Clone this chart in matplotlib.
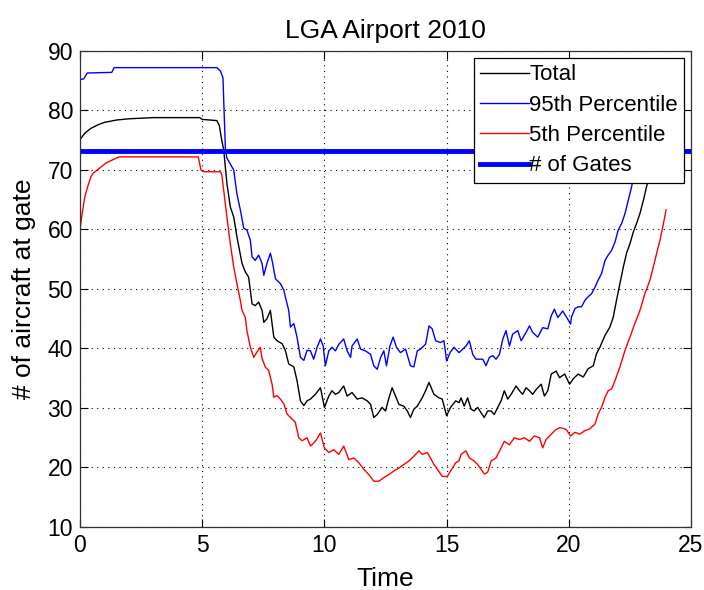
import matplotlib
matplotlib.use("Agg")
import matplotlib.pyplot as plt

plt.rcParams['font.family'] = ['Liberation Sans', 'DejaVu Sans']

title = "LGA Airport 2010"
xlabel = "Time"
ylabel = "# of aircraft at gate"
legend_labels = ["Total", "95th Percentile", "5th Percentile", "# of Gates"]
gates = 73.2

t_total = [0.0, 0.2, 0.45, 0.74, 1.0, 1.5, 2.0, 3.0, 4.9, 5.0, 5.6, 5.7, 5.8,
           5.88, 6.01, 6.15, 6.29, 6.42, 6.63, 6.76, 6.9, 6.97, 7.04, 7.17, 7.31, 7.45,
           7.52, 7.65, 7.79, 7.93, 8.06, 8.27, 8.4, 8.54, 8.75, 8.88, 9.02, 9.16, 9.29,
           9.43, 9.63, 9.84, 10.0, 10.18, 10.31, 10.45, 10.59, 10.79, 10.93, 11.13, 11.34,
           11.54, 11.75, 11.89, 12.02, 12.16, 12.36, 12.5, 12.64, 12.77, 12.91, 13.05,
           13.25, 13.39, 13.52, 13.66, 13.8, 14.0, 14.14, 14.28, 14.48, 14.69, 14.82,
           15.0, 15.16, 15.37, 15.51, 15.59, 15.72, 15.86, 16.0, 16.13, 16.27, 16.41,
           16.54, 16.68, 16.82, 16.95, 17.09, 17.23, 17.36, 17.5, 17.64, 17.84, 17.98,
           18.11, 18.25, 18.39, 18.52, 18.66, 18.87, 19.0, 19.14, 19.28, 19.48, 19.62,
           19.83, 20.03, 20.18, 20.38, 20.59, 20.79, 21.0, 21.13, 21.27, 21.48, 21.68,
           21.82, 21.95, 22.09, 22.23, 22.36, 22.5, 22.64, 22.77, 22.91, 23.05, 23.18,
           23.32, 23.6, 24.0]
v_total = [75.1, 76.2, 77.0, 77.6, 78.0, 78.4, 78.6, 78.8, 78.8, 78.5, 78.3, 77.5, 75.0,
           73.4, 67.8, 63.8, 62.1, 58.8, 54.3, 52.9, 52.0, 49.8, 47.5, 47.2, 47.8, 46.4,
           44.4, 45.0, 46.4, 41.9, 41.3, 40.8, 39.7, 37.4, 36.9, 34.6, 31.2, 30.4, 31.2,
           31.5, 32.3, 33.4, 30.1, 32.0, 32.9, 32.3, 32.6, 33.7, 32.0, 32.6, 31.5,
           31.7, 31.2, 30.6, 28.4, 28.9, 30.1, 29.5, 31.7, 33.4, 32.0, 30.6,
           30.3, 29.5, 28.4, 29.8, 30.3, 31.7, 32.9, 34.3, 32.3, 31.7, 31.5,
           28.7, 30.1, 31.2, 30.9, 31.7, 30.3, 31.7, 29.8, 29.5, 30.1, 29.2,
           28.4, 29.5, 29.5, 28.9, 30.1, 31.2, 32.9, 31.5, 32.3, 33.7, 32.9,
           32.3, 33.4, 32.9, 32.3, 33.1, 34.0, 32.0, 32.9, 35.7, 36.2, 35.1,
           35.7, 34.0, 34.9, 35.7, 35.2, 36.6, 37.1, 39.1, 40.2, 42.2, 43.6,
           45.3, 48.1, 50.9, 53.7, 56.0, 57.6, 59.6, 61.0, 62.7, 64.9, 67.2,
           69.4, 72.5, 76.0]

t_p95 = [0.0, 0.15, 0.3, 1.3, 1.4, 5.6, 5.75, 5.85, 5.95, 6.01, 6.29, 6.42, 6.56, 6.7,
         6.83, 6.97, 7.04, 7.17, 7.31, 7.45, 7.52, 7.65, 7.79, 7.86, 8.0, 8.2, 8.34, 8.4,
         8.54, 8.61, 8.75, 8.88, 9.02, 9.16, 9.29,
         9.43, 9.56, 9.7, 9.84, 9.95, 10.04, 10.18, 10.31, 10.45, 10.59, 10.79, 10.93,
         11.07, 11.13, 11.34, 11.48, 11.68, 11.89, 12.02, 12.16, 12.3, 12.43, 12.54,
         12.68, 12.81, 12.95, 13.11, 13.32, 13.52, 13.66, 13.8, 13.93, 14.14, 14.28,
         14.41, 14.55, 14.75, 14.89, 15.0, 15.14, 15.3, 15.51, 15.66, 15.79, 15.93,
         16.07, 16.2, 16.48, 16.61, 16.75, 16.89, 17.02, 17.16, 17.3, 17.43, 17.57,
         17.7, 17.91, 18.05, 18.25, 18.39, 18.52, 18.73, 18.93, 19.14, 19.28, 19.41,
         19.55, 19.75, 19.96, 20.07, 20.11, 20.25, 20.38, 20.52, 20.66, 20.79, 20.93,
         21.07, 21.2, 21.34, 21.48, 21.61, 21.75, 21.89, 22.02, 22.16, 22.3, 22.43,
         22.57, 22.64, 22.9, 23.3, 23.7, 24.0]
v_p95 = [85.2, 85.3, 86.3, 86.4, 87.2, 87.2, 86.6, 85.5, 73.4, 72.0, 70.0, 66.0, 63.3, 60.2,
         59.9, 58.2, 55.4, 54.8, 55.7, 54.3, 52.3, 54.3, 56.0, 54.8, 51.7, 50.9, 49.8, 48.7,
         46.4, 43.6, 44.2, 41.9, 38.5, 38.0, 39.7,
         39.6, 38.2, 40.2, 41.6, 40.4, 37.1, 39.6, 40.2, 39.6, 40.7, 41.6, 39.6,
         38.5, 40.4, 41.6, 39.9, 39.6, 39.0, 37.1, 36.5, 38.5, 39.6, 37.1,
         40.4, 41.9, 40.2, 39.3, 39.9, 37.1, 36.9, 39.6, 39.9, 40.7, 43.8,
         43.3, 41.3, 41.0, 41.3, 37.9, 39.3, 40.2, 39.3, 39.9, 40.4, 41.3,
         39.0, 38.2, 38.2, 37.1, 38.5, 38.8, 38.2, 39.0, 41.6, 43.0, 40.4,
         42.4, 43.0, 41.3, 42.7, 43.8, 42.7, 41.9, 43.5, 43.3, 45.5, 46.6,
         45.2, 46.3, 44.9, 44.1, 45.3, 46.7, 47.0, 47.0, 48.1, 48.7, 49.2,
         50.3, 51.5, 52.6, 54.8, 55.7, 56.5, 57.9, 59.9, 61.0, 62.7, 64.9,
         67.2, 68.9, 72.0, 76.0, 80.0, 84.0]

t_p5 = [0.0, 0.1, 0.2, 0.3, 0.45, 0.55, 0.8, 1.07, 1.6, 4.84, 4.95, 5.1, 5.75, 5.8,
        5.88, 6.01, 6.15, 6.29, 6.42, 6.56, 6.63, 6.76, 6.83, 6.97, 7.11, 7.24, 7.38,
        7.45, 7.58, 7.72, 7.86, 7.93, 8.06, 8.2, 8.34, 8.47, 8.61, 8.81, 8.95, 9.09, 9.29,
        9.43, 9.63, 9.84, 10.0, 10.18, 10.38, 10.59, 10.79, 11.0, 11.2, 11.41, 11.61,
        11.82, 12.02, 12.23, 12.43, 12.64, 12.84, 13.05, 13.25, 13.46, 13.66, 13.87,
        14.0, 14.21, 14.34, 14.48, 14.62, 14.82, 15.03, 15.16, 15.37, 15.51, 15.59,
        15.79, 15.93, 16.13, 16.27, 16.41, 16.55, 16.68, 16.82, 17.02, 17.23, 17.36,
        17.57, 17.77, 17.98, 18.18, 18.39, 18.59, 18.8, 18.93, 19.07, 19.28, 19.48,
        19.65, 19.89, 20.07, 20.25, 20.45, 20.66, 20.86, 21.07, 21.2, 21.34, 21.48,
        21.61, 21.75, 21.89, 22.09, 22.3, 22.5, 22.7, 22.91, 23.11, 23.32, 23.52,
        23.73, 23.87, 23.98]
v_p5 = [60.0, 63.0, 65.5, 67.0, 68.9, 69.5, 70.3, 71.2, 72.2, 72.2, 70.0, 69.7, 69.7, 69.2,
        66.6, 62.1, 57.6, 53.7, 50.9, 48.1, 46.4, 45.3, 43.0, 40.2, 38.5, 39.4, 40.2,
        38.3, 36.9, 36.3, 34.0, 31.8, 32.1, 31.5, 30.7, 29.0, 28.4, 27.6, 25.0, 24.5, 25.0,
        23.6, 24.4, 25.8, 23.3, 22.5, 23.0, 22.2, 23.6, 21.3, 21.6, 20.8, 19.7,
        18.8, 17.7, 17.7, 18.3, 18.8, 19.4, 19.9, 20.5, 21.1, 21.9, 22.8,
        22.2, 22.5, 21.6, 20.5, 19.7, 18.5, 18.5, 19.4, 20.8, 21.1, 22.2,
        22.8, 21.6, 21.1, 20.5, 19.7, 18.9, 19.2, 21.1, 21.6, 23.3, 24.4,
        23.8, 25.0, 24.7, 25.0, 24.4, 25.3, 25.0, 23.3, 24.7, 25.6, 26.4,
        26.7, 26.4, 25.3, 25.9, 25.6, 26.2, 26.5, 27.3, 29.0, 30.1, 31.8,
        32.9, 33.2, 34.6, 36.9, 39.7, 41.9, 44.2, 46.4, 49.2, 51.5, 54.8,
        58.2, 61.0, 63.3]

xticks = [0, 5, 10, 15, 20, 25]
yticks = [10, 20, 30, 40, 50, 60, 70, 80, 90]

fig = plt.figure(figsize=(7.04, 5.90), dpi=100)
ax = fig.add_axes([0.1136, 0.1068, 0.868, 0.8068])

ax.plot(t_total, v_total, color='black', lw=1.0, label=legend_labels[0])
ax.plot(t_p95, v_p95, color='#0000ff', lw=1.0, label=legend_labels[1])
ax.plot(t_p5, v_p5, color='#ff0000', lw=1.0, label=legend_labels[2])
ax.axhline(gates, color='#0000ff', lw=3.5, label=legend_labels[3])

ax.set_xlim(0, 25)
ax.set_ylim(10, 90)
ax.set_xticks(xticks)
ax.set_yticks(yticks)
ax.grid(True, color='black', linestyle=(0, (1, 4)), linewidth=0.8)
ax.tick_params(direction='in', top=True, right=True, labelsize=16.5, length=6, width=0.8,
               pad=5, colors='black')
for s in ax.spines.values():
    s.set_linewidth(0.9)
    s.set_color('#333333')

ax.set_title(title, fontsize=19, pad=9)
ax.set_xlabel(xlabel, fontsize=19, labelpad=7)
ax.set_ylabel(ylabel, fontsize=19, labelpad=8)

leg = ax.legend(loc='upper right', fontsize=16, frameon=True, fancybox=False,
                edgecolor='black', framealpha=1.0, handlelength=2.2, handletextpad=0.0,
                borderpad=0.3, labelspacing=0.42, borderaxespad=0.3)
leg.get_frame().set_linewidth(0.9)

fig.savefig("out.png", dpi=100)
